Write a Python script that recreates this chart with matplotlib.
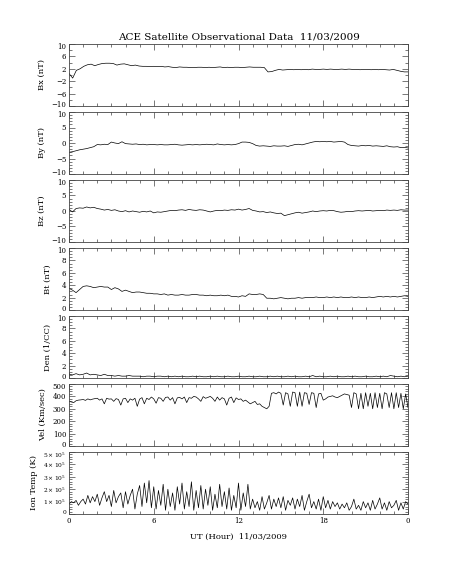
import numpy as np
import matplotlib
matplotlib.use("Agg")
import matplotlib.pyplot as plt
from matplotlib.ticker import MultipleLocator
from matplotlib.transforms import ScaledTranslation

# ---------------- data ----------------
# magnetic field / density: 15-min samples, 0..24 h
bx = [0.5, -1.0, 1.5, 2.0, 2.8, 3.3, 3.5, 3.0, 3.4, 3.7, 3.8, 3.8, 3.7, 3.2, 3.5, 3.6,
      3.3, 3.0, 3.2, 2.9, 2.8, 2.8, 2.7, 2.8, 2.7, 2.8, 2.6, 2.7, 2.5, 2.4, 2.6, 2.5,
      2.5, 2.4, 2.4, 2.5, 2.5, 2.4, 2.5, 2.4, 2.5, 2.6, 2.4, 2.5, 2.4, 2.5, 2.5, 2.4,
      2.5, 2.6, 2.5, 2.5, 2.5, 2.4, 1.0, 1.1, 1.5, 1.8, 1.6, 1.7, 1.8, 1.7, 1.8, 1.7,
      1.8, 1.7, 1.9, 1.8, 1.8, 1.9, 1.8, 1.9, 1.8, 1.8, 1.9, 1.8, 1.9, 1.8, 1.8, 1.7,
      1.8, 1.8, 1.7, 1.8, 1.7, 1.8, 1.7, 1.6, 1.8, 1.5, 1.2, 1.0, 1.0]
by = [-3.0, -2.8, -2.5, -2.2, -2.0, -1.8, -1.5, -1.2, -0.5, -0.6, -0.4, -0.5, 0.3, 0.0, -0.2, 0.4,
      -0.2, -0.3, -0.4, -0.3, -0.5, -0.4, -0.6, -0.5, -0.5, -0.6, -0.5, -0.6, -0.6, -0.5, -0.4, -0.6,
      -0.7, -0.6, -0.5, -0.6, -0.5, -0.6, -0.5, -0.4, -0.5, -0.6, -0.3, -0.5, -0.6, -0.5, -0.6, -0.5,
      -0.2, 0.3, 0.3, 0.2, -0.2, -0.8, -1.0, -0.9, -1.0, -1.1, -0.9, -1.0, -1.0, -0.9, -1.1, -0.8,
      -0.5, -0.4, -0.6, -0.3, 0.0, 0.3, 0.5, 0.4, 0.5, 0.4, 0.5, 0.3, 0.4, 0.5, 0.3, -0.5,
      -0.8, -0.9, -1.0, -0.8, -0.9, -0.8, -1.0, -0.9, -1.0, -1.1, -0.9, -1.2, -1.3, -1.2, -1.5, -1.4, -1.6]
bz = [0.5, -0.3, 0.8, 1.0, 0.9, 1.3, 1.0, 1.2, 0.8, 0.6, 0.3, 0.5, 0.2, 0.4, 0.0, -0.2,
      0.1, -0.3, 0.0, -0.2, -0.4, -0.1, -0.3, 0.0, -0.6, -0.3, -0.4, -0.2, 0.0, 0.2, 0.1, 0.3,
      0.4, 0.2, 0.5, 0.3, 0.2, 0.4, 0.3, 0.0, -0.3, 0.0, 0.2, 0.1, 0.3, 0.2, 0.4, 0.3,
      0.6, 0.3, 0.5, 0.8, 0.2, 0.0, -0.3, -0.2, -0.5, -0.3, -0.6, -0.8, -0.7, -1.5, -1.2, -0.9,
      -0.6, -0.4, -0.7, -0.5, -0.3, 0.0, -0.2, 0.0, 0.1, 0.0, 0.2, 0.1, -0.2, -0.4, -0.3, -0.1,
      -0.2, 0.0, 0.1, 0.0, 0.1, 0.2, 0.0, 0.1, 0.2, 0.1, 0.3, 0.2, 0.3, 0.2, 0.4, 0.3, 0.3]
bt = [3.5, 3.2, 2.8, 3.3, 3.8, 3.9, 3.8, 3.6, 3.7, 3.8, 3.7, 3.7, 3.3, 3.6, 3.4, 3.0,
      3.2, 3.0, 2.8, 2.9, 2.9, 2.8, 2.7, 2.7, 2.6, 2.6, 2.5, 2.6, 2.4, 2.5, 2.4, 2.4,
      2.5, 2.4, 2.4, 2.5, 2.5, 2.4, 2.4, 2.3, 2.4, 2.3, 2.3, 2.4, 2.3, 2.4, 2.2, 2.2,
      2.1, 2.3, 2.2, 2.6, 2.5, 2.5, 2.6, 2.5, 1.9, 1.9, 1.8, 1.9, 2.0, 1.9, 1.8, 1.9,
      1.9, 2.0, 1.9, 2.0, 2.0, 2.0, 2.1, 2.0, 2.0, 2.1, 2.0, 2.1, 2.0, 2.1, 2.0, 2.0,
      2.1, 2.0, 2.1, 2.0, 2.0, 2.1, 2.0, 2.1, 2.2, 2.1, 2.2, 2.1, 2.2, 2.1, 2.2, 2.3, 2.2]
den = [0.6, 0.5, 0.7, 0.5, 0.6, 0.8, 0.5, 0.6, 0.5, 0.4, 0.6, 0.4, 0.4, 0.3, 0.4, 0.3,
       0.3, 0.4, 0.3, 0.3, 0.3, 0.2, 0.3, 0.3, 0.2, 0.3, 0.3, 0.2, 0.3, 0.2, 0.3, 0.2,
       0.3, 0.2, 0.2, 0.3, 0.2, 0.3, 0.2, 0.2, 0.3, 0.2, 0.3, 0.2, 0.2, 0.3, 0.2, 0.2,
       0.3, 0.2, 0.2, 0.3, 0.2, 0.2, 0.3, 0.2, 0.2, 0.3, 0.2, 0.3, 0.2, 0.2, 0.3, 0.2,
       0.3, 0.2, 0.2, 0.3, 0.2, 0.4, 0.2, 0.3, 0.2, 0.2, 0.3, 0.2, 0.3, 0.2, 0.2, 0.3,
       0.2, 0.3, 0.2, 0.2, 0.3, 0.2, 0.2, 0.3, 0.2, 0.3, 0.2, 0.4, 0.3, 0.2, 0.3, 0.2, 0.3]
# plasma: 10-min samples, 0..24 h
vel = [360, 355, 350, 365, 370, 372, 375, 368, 380, 372, 378, 382,
       385, 370, 380, 340, 385, 378, 380, 360, 382, 375, 330, 380,
       385, 350, 380, 370, 385, 320, 378, 390, 340, 385, 375, 395,
       380, 345, 390, 385, 360, 392, 395, 370, 390, 340, 388, 392,
       380, 395, 350, 390, 385, 400, 395, 380, 360, 398, 385, 392,
       400, 385, 360, 395, 370, 390, 380, 330, 385, 395, 350, 388,
       375, 380, 360, 370, 355, 340, 350, 360, 335, 340, 320, 310,
       300, 320, 425, 430, 420, 435, 425, 330, 430, 420, 320, 435,
       430, 320, 435, 320, 430, 425, 335, 430, 425, 310, 420, 425,
       370, 380, 395, 400, 405, 395, 390, 400, 410, 420, 415, 410,
       310, 430, 420, 300, 425, 300, 430, 320, 425, 300, 430, 310,
       425, 300, 430, 420, 310, 430, 300, 430, 310, 425, 300, 420, 310]
temp_e5 = [0.8, 1.0, 0.9, 1.1, 0.7, 1.0, 1.2, 0.8, 1.5, 0.9, 1.4, 1.0,
           1.6, 0.7, 1.3, 1.8, 1.0, 1.5, 0.6, 1.9, 0.9, 1.4, 1.7, 0.5,
           1.8, 0.8, 1.5, 2.0, 0.4, 1.6, 2.3, 0.6, 2.5, 0.9, 2.7, 0.5,
           2.2, 0.4, 1.9, 0.7, 2.4, 0.3, 2.0, 0.6, 1.7, 0.3, 2.2, 0.8,
           2.5, 0.4, 1.8, 0.6, 2.6, 0.3, 1.9, 0.5, 2.3, 0.4, 2.0, 0.7,
           2.2, 0.3, 1.6, 0.5, 2.4, 0.6, 1.8, 0.4, 2.1, 0.3, 1.5, 0.5,
           2.5, 0.3, 1.7, 0.6, 2.4, 0.4, 1.2, 0.5, 1.0, 0.3, 1.4, 0.4,
           0.9, 1.5, 0.4, 1.2, 0.6, 1.3, 0.5, 1.4, 0.3, 1.1, 0.7, 1.3,
           0.4, 1.2, 0.6, 1.5, 0.3, 1.0, 1.6, 0.5, 1.0, 0.4, 1.2, 0.3,
           1.4, 0.5, 1.1, 0.4, 1.0, 0.6, 0.9, 0.4, 0.8, 0.5, 0.9, 0.3,
           0.6, 1.2, 0.4, 0.7, 0.3, 1.0, 0.5, 0.9, 0.3, 1.1, 0.4, 0.8,
           1.3, 0.4, 0.9, 0.3, 1.0, 0.5, 0.7, 1.1, 0.3, 0.9, 0.4, 1.0, 0.8]

title = "ACE Satellite Observational Data  11/03/2009"
xlabel = "UT (Hour)  11/03/2009"
xtick_vals = [0, 6, 12, 18, 24]
xtick_labels = ["0", "6", "12", "18", "0"]

panels = [
    ("Bx (nT)", bx, (-10, 10), [10, 6, 2, -2, -6, -10], ["10", "6", "2", "\u22122", "\u22126", "\u221210"], 2, 5),
    ("By (nT)", by, (-10, 10), [10, 5, 0, -5, -10], ["10", "5", "0", "\u22125", "\u221210"], 1, 5),
    ("Bz (nT)", bz, (-10, 10), [10, 5, 0, -5, -10], ["10", "5", "0", "\u22125", "\u221210"], 1, 5),
    ("Bt (nT)", bt, (0, 10), [0, 2, 4, 6, 8, 10], ["0", "2", "4", "6", "8", "10"], 0.5, 5),
    ("Den (1/CC)", den, (0, 10), [0, 2, 4, 6, 8, 10], ["0", "2", "4", "6", "8", "10"], 0.5, 5),
    ("Vel (Km/sec)", vel, (0, 500), [0, 100, 200, 300, 400, 500], ["0", "100", "200", "300", "400", "500"], 20, 5),
    ("Ion Temp (K)", [v * 1e5 for v in temp_e5], (0, 5e5), [0, 1e5, 2e5, 3e5, 4e5, 5e5],
     ["0"] + [r"$%d\times10^5$" % k for k in range(1, 6)], 2e4, 4.3),
]

plt.rcParams['font.family'] = ['DejaVu Serif']
plt.rcParams['mathtext.fontset'] = 'dejavuserif'

W, H = 453, 566
fig = plt.figure(figsize=(W / 100, H / 100), dpi=100)
fig.patch.set_facecolor('white')

left_px, right_px = 69, 408
top0, step, ph = 44, 68, 62
nudge_px = 2.2

axes = []
for i, (lab, data, ylim, yt, ytl, yminor, lsize) in enumerate(panels):
    top = top0 + step * i
    ax = fig.add_axes([left_px / W, 1 - (top + ph) / H, (right_px - left_px) / W, ph / H])
    t = np.linspace(0, 24, len(data))
    ax.plot(t, data, color='black', lw=0.5)
    ax.set_xlim(0, 24)
    ax.set_ylim(*ylim)
    ax.set_yticks(yt)
    ax.set_yticklabels(ytl)
    ax.yaxis.set_minor_locator(MultipleLocator(yminor))
    ax.set_xticks(xtick_vals)
    ax.xaxis.set_minor_locator(MultipleLocator(1))
    ax.tick_params(which='both', direction='in', top=True, right=True, labelsize=5,
                   width=0.5, color='#444444', pad=2)
    ax.tick_params(axis='y', labelsize=lsize)
    ax.tick_params(which='major', length=4)
    ax.tick_params(which='minor', length=2)
    ax.set_ylabel(lab, fontsize=6, labelpad=4)
    for s in ax.spines.values():
        s.set_linewidth(0.6)
        s.set_color('#444444')
    if i < len(panels) - 1:
        ax.set_xticklabels([])
    else:
        ax.set_xticklabels(xtick_labels)
        ax.set_xlabel(xlabel, fontsize=6, labelpad=6)
    # nudge the extreme tick labels slightly inward, as in the reference
    labels = ax.get_yticklabels()
    vals = list(yt)
    top_i = vals.index(max(vals))
    bot_i = vals.index(min(vals))
    labels[top_i].set_transform(labels[top_i].get_transform() +
                                ScaledTranslation(0, -nudge_px / 100, fig.dpi_scale_trans))
    labels[bot_i].set_transform(labels[bot_i].get_transform() +
                                ScaledTranslation(0, nudge_px / 100, fig.dpi_scale_trans))
    axes.append(ax)

fig.align_ylabels(axes)
fig.text((left_px + right_px) / 2 / W, 1 - 37 / H, title, ha='center', va='center', fontsize=7.5)

fig.savefig('out.png', dpi=100, facecolor='white')
